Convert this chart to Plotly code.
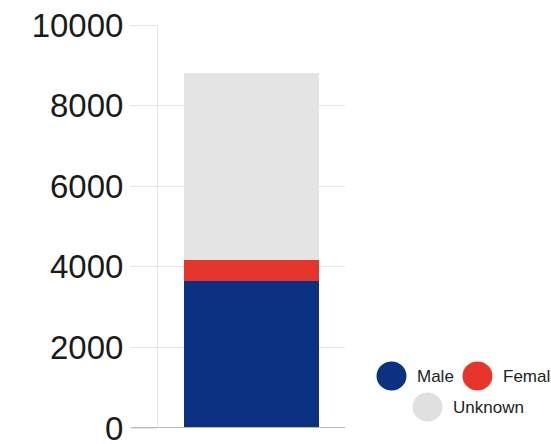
import plotly.graph_objects as go

# Data
categories = ["Gender"]
series_names = ["Male", "Female", "Unknown"]
male = [3640]
female = [535]
unknown = [4625]
series_values = [male, female, unknown]
series_colors = ["#0b3282", "#e5352b", "#e4e4e4"]
legend_colors = ["#0b3282", "#e5352b", "#e0e0e0"]
y_ticks = [0, 2000, 4000, 6000, 8000, 10000]

W, H = 551, 444
L, R, T, B = 158, 206, 25, 16
plot_w = W - L - R
plot_h = H - T - B

fig = go.Figure()
for name, vals, col in zip(series_names, series_values, series_colors):
    fig.add_trace(go.Bar(
        x=categories, y=vals, name=name,
        marker=dict(color=col, line=dict(width=0)),
        showlegend=False,
    ))


def px_x(X):
    return (X - L) / plot_w


def px_y(Y):
    return (H - B - Y) / plot_h


# Legend drawn as circles with labels, two rows
legend_items = [
    # name, circle centre (px), label start (px)
    ("Male", (391.5, 376), 415),
    ("Female", (477.5, 376), 501),
    ("Unknown", (427.5, 407), 451),
]
shapes = []
annotations = []
for (name, (cx, cy), tx), col in zip(legend_items, legend_colors):
    shapes.append(dict(
        type="circle", xref="paper", yref="paper",
        xsizemode="pixel", ysizemode="pixel",
        xanchor=px_x(cx), yanchor=px_y(cy),
        x0=-15, x1=15, y0=-14.5, y1=14.5,
        fillcolor=col, line=dict(width=0), layer="above",
    ))
    annotations.append(dict(
        text=name, xref="paper", yref="paper",
        x=px_x(tx), y=px_y(cy), xanchor="left", yanchor="middle",
        showarrow=False,
        font=dict(family="Liberation Sans, Arial, sans-serif", size=17, color="#222222"),
    ))

# Baseline, extended under the tick stub
shapes.append(dict(
    type="line", xref="paper", yref="y",
    x0=px_x(131), x1=1, y0=0, y1=0,
    line=dict(color="#b8b8b8", width=2), layer="above",
))

fig.update_layout(
    template="none",
    width=W, height=H,
    margin=dict(l=L, r=R, t=T, b=B, pad=0, autoexpand=False),
    barmode="stack",
    bargap=0.278,
    paper_bgcolor="white",
    plot_bgcolor="white",
    showlegend=False,
    shapes=shapes,
    annotations=annotations,
    xaxis=dict(
        showticklabels=False, showgrid=False, zeroline=False,
        showline=False, ticks="", automargin=False,
    ),
    yaxis=dict(
        range=[0, 10000],
        tickvals=y_ticks,
        ticktext=[str(v) for v in y_ticks],
        automargin=False,
        ticklabeloverflow="allow",
        showgrid=True, gridcolor="#e6e6e6", gridwidth=1,
        zeroline=False,
        showline=True, linecolor="#e6e6e6", linewidth=1,
        ticks="outside", ticklen=27, tickcolor="#e6e6e6", tickwidth=1,
        tickfont=dict(family="Liberation Sans, Arial, sans-serif", size=33, color="#1a1a1a"),
    ),
)

fig.write_html("out.html")
